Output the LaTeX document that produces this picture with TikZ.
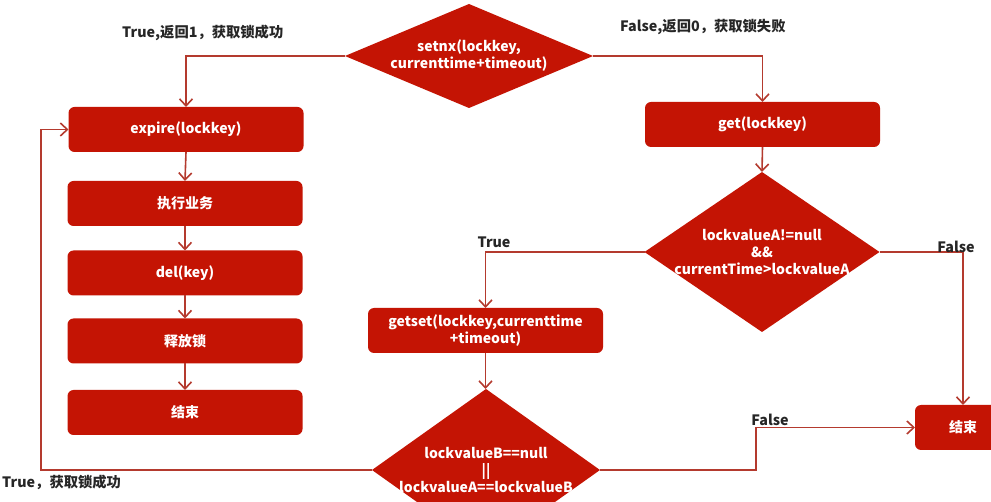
\documentclass[tikz,border=0pt]{standalone}
\usepackage{fontspec}
\setmainfont{Noto Sans CJK SC}
\usetikzlibrary{arrows.meta,shapes.geometric,calc}
\definecolor{boxred}{RGB}{196,20,4}
\definecolor{linered}{RGB}{180,58,46}
\tikzset{
  stepbox/.style={draw=none, fill=boxred, rounded corners=6pt, minimum width=235pt, minimum height=45pt, inner sep=0pt, outer sep=0pt, text=white, font=\bfseries\fontsize{14}{17}\selectfont, align=center},
  decision/.style={diamond, fill=boxred, inner sep=0pt, outer sep=0pt},
  dectext/.style={text=white, font=\bfseries\fontsize{14}{17}\selectfont, align=center, inner sep=0pt},
  lbl/.style={font=\bfseries\fontsize{14.3}{17}\selectfont, text=black!85, inner sep=0pt},
  conn/.style={draw=linered, line width=1.6pt, -{Straight Barb[length=7pt,width=13pt]}},
}
\begin{document}
\begin{tikzpicture}[x=1pt,y=-1pt]
\useasboundingbox (0,0) rectangle (991,502);
\clip (0,0) rectangle (991,502);
\fill[white] (0,0) rectangle (991,502);
% nodes
\node[decision, minimum width=248pt, minimum height=104pt] (d1) at (469,56) {};
\node[dectext] (d1t) at (d1.center) {setnx(lockkey,\\currenttime+timeout)};
\node[stepbox] (b1) at (186,129.5) {expire(lockkey)};
\node[stepbox] (b2) at (185,203.5) {执行业务};
\node[stepbox] (b3) at (185,273) {del(key)};
\node[stepbox] (b4) at (185,341) {释放锁};
\node[stepbox] (b5) at (185,412.5) {结束};
\node[stepbox] (g) at (762.5,124.5) {get(lockkey)};
\node[decision, minimum width=235pt, minimum height=160pt] (d2) at (762,252) {};
\node[dectext] (d2t) at (d2.center) {lockvalueA!=null\\\&\&\\currentTime>lockvalueA};
\node[stepbox] (s) at (485.5,330.5) {getset(lockkey,currenttime\\+timeout)};
\node[decision, minimum width=228pt, minimum height=162pt] (d3) at (486,470) {};
\node[dectext] (d3t) at (d3.center) {lockvalueB==null\\||\\lockvalueA==lockvalueB};
\node[stepbox, minimum width=96pt] (e) at (963,427.5) {结束};
% labels
\node[lbl, anchor=west] (t1) at (122,33) {True,返回1，获取锁成功};
\node[lbl, anchor=west] (f1) at (620,27) {False,返回0，获取锁失败};
\node[lbl] (t2) at (494,242) {True};
\node[lbl] (f3) at (770,420) {False};
\node[lbl, anchor=west] (t3) at (2,482) {True，获取锁成功};
% connectors
\draw[conn] (d1.west) -| (b1.north);
\draw[conn] (d1.east) -| (g.north);
\draw[conn] (b1.south) -- (b2.north);
\draw[conn] (b2.south) -- (b3.north);
\draw[conn] (b3.south) -- (b4.north);
\draw[conn] (b4.south) -- (b5.north);
\draw[conn] (g.south) -- (d2.north);
\draw[conn] (d2.west) -| (s.north);
\draw[conn] (d2.east) -| (e.north);
\draw[conn] (s.south) -- (s.south |- d3.north);
\coordinate (r1) at (756,470);
\draw[conn] (d3.east) -- (r1) |- (e.west);
\coordinate (l1) at (41,470);
\draw[conn] (d3.west) -- (l1) |- (b1.west);
\node[lbl] (f2) at (956,247) {False};
\end{tikzpicture}
\end{document}
